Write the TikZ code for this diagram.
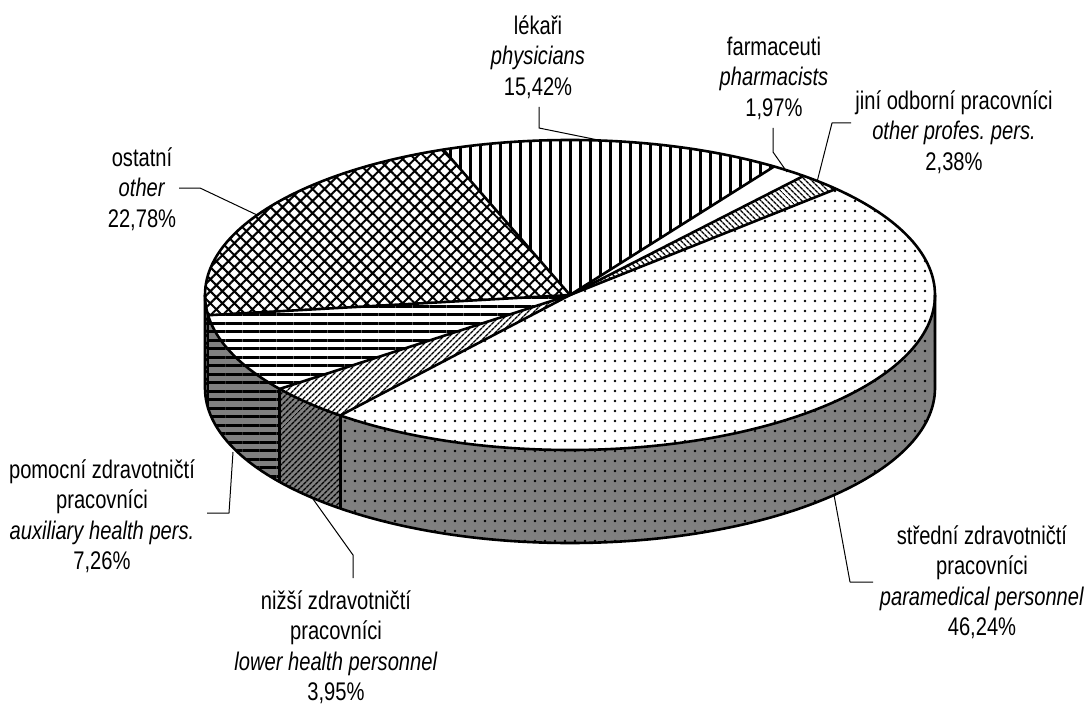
\documentclass[tikz,border=0pt]{standalone}
\usepackage{fontspec}
\setmainfont{Liberation Sans}[FakeStretch=0.79]
\usetikzlibrary{patterns,patterns.meta}
\definecolor{wallgray}{HTML}{808080}
\frenchspacing
\pgfdeclarepatternformonly{sdots}{\pgfqpoint{-1pt}{-1pt}}{\pgfqpoint{11pt}{11pt}}{\pgfqpoint{10pt}{10pt}}{%
  \pgfpathcircle{\pgfqpoint{5pt}{5pt}}{1.4pt}%
  \pgfusepath{fill}}
\newcommand\wallpiece[3]{\path[#3] (C) ++(#1:365pt and 155pt) arc[start angle=#1,end angle=#2,x radius=365pt,y radius=155pt] -- ++(0,-93) arc[start angle=#2,end angle=#1,x radius=365pt,y radius=155pt] -- cycle;}
\newcommand\topslice[3]{\path[#3] (C) -- ++(#1:365pt and 155pt) arc[start angle=#1,end angle=#2,x radius=365pt,y radius=155pt] -- cycle;}
\tikzset{
  edge/.style={line width=2.6pt},
  lead/.style={line width=1pt},
  lbl/.style={align=center, font=\fontsize{25.5}{30.5}\selectfont\frenchspacing, inner sep=0pt},
  topw/.style={fill=white},
  wallg/.style={fill=wallgray},
  pvert/.style={postaction={pattern={Lines[angle=90,distance=10pt,line width=3pt]}}},
  phatch/.style={postaction={pattern={Hatch[angle=45,distance=8.5pt,line width=2pt]}}},
  pnw/.style={postaction={pattern={Lines[angle=-45,distance=4pt,line width=1.5pt]}}},
  pne/.style={postaction={pattern={Lines[angle=45,distance=4pt,line width=1.5pt]}}},
  phor/.style={postaction={pattern={Lines[angle=0,distance=8.5pt,line width=3pt]}}},
  pdots/.style={postaction={pattern=sdots}},
}
\begin{document}
\begin{tikzpicture}[x=1pt,y=1pt,line join=round]
\useasboundingbox (0,0) rectangle (1090,-706);
\coordinate (C) at (570,-295);
% walls
\wallpiece{-180}{-172.5}{wallg,phatch}
\wallpiece{-172.5}{-142.7}{wallg,phor}
\wallpiece{-142.7}{-129}{wallg,pne}
\wallpiece{-129}{0}{wallg,pdots}
% top slices
\topslice{110.3}{56}{topw,pvert}
\topslice{56}{50.2}{topw}
\topslice{50.2}{43.2}{topw,pnw}
\topslice{43.2}{-129}{topw,pdots}
\topslice{-129}{-142.7}{topw,pne}
\topslice{-142.7}{-172.5}{topw,phor}
\topslice{-172.5}{-249.7}{topw,phatch}
% outlines
\draw[edge] (C) ellipse[x radius=365pt,y radius=155pt];
\foreach \a in {110.3,56,50.2,43.2,-129,-142.7,-172.5}
  \draw[edge] (C) -- ++(\a:365pt and 155pt);
\draw[edge] (C) ++(180:365pt and 155pt) -- ++(0,-93) arc[start angle=180,end angle=360,x radius=365pt,y radius=155pt] -- ++(0,93);
\foreach \a in {-172.5,-142.7,-129}
  \draw[edge] (C) ++(\a:365pt and 155pt) -- ++(0,-93);
% labels
\node[lbl] (lek) at (538,-57) {lékaři\\\textit{physicians}\\15,42\%};
\node[lbl] (far) at (774,-78) {farmaceuti\\\textit{pharmacists}\\1,97\%};
\node[lbl] (jin) at (954,-132) {jiní odborní pracovníci\\\textit{other profes. pers.}\\2,38\%};
\node[lbl] (ost) at (142,-189) {ostatní\\\textit{other}\\22,78\%};
\node[lbl] (pom) at (102,-516) {pomocní zdravotničtí\\pracovníci\\\textit{auxiliary health pers.}\\7,26\%};
\node[lbl] (niz) at (336,-647) {nižší zdravotničtí\\pracovníci\\\textit{lower health personnel}\\3,95\%};
\node[lbl] (str) at (982,-582) {střední zdravotničtí\\pracovníci\\\textit{paramedical personnel}\\46,24\%};
% leaders
\coordinate (lekA) at (539,-107); \coordinate (lekB) at (539,-128); \coordinate (lekC) at (603,-141);
\coordinate (farA) at (773,-128); \coordinate (farB) at (773,-152); \coordinate (farC) at (787,-172);
\coordinate (jinA) at (851,-123); \coordinate (jinB) at (832,-123); \coordinate (jinC) at (817,-182);
\coordinate (ostA) at (179,-188); \coordinate (ostB) at (200,-188); \coordinate (ostC) at (257,-215);
\coordinate (pomA) at (207,-513); \coordinate (pomB) at (229,-513); \coordinate (pomC) at (233,-452);
\coordinate (nizA) at (353,-578); \coordinate (nizB) at (353,-555); \coordinate (nizC) at (313,-499);
\coordinate (strA) at (873,-582); \coordinate (strB) at (850,-582); \coordinate (strC) at (834,-495);
\draw[lead] (lekA) -- (lekB) -- (lekC);
\draw[lead] (farA) -- (farB) -- (farC);
\draw[lead] (jinA) -- (jinB) -- (jinC);
\draw[lead] (ostA) -- (ostB) -- (ostC);
\draw[lead] (pomA) -- (pomB) -- (pomC);
\draw[lead] (nizA) -- (nizB) -- (nizC);
\draw[lead] (strA) -- (strB) -- (strC);
\end{tikzpicture}
\end{document}
